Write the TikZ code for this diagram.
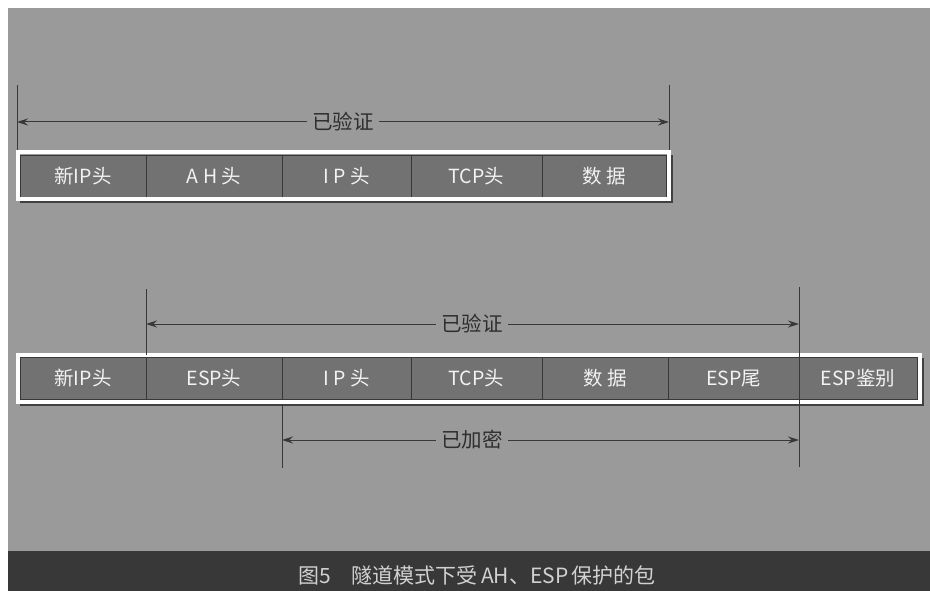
\documentclass[tikz,border=0pt]{standalone}
\usepackage{fontspec}
\usepackage{tikz}
\usetikzlibrary{arrows.meta}
\newfontfamily\cjk{Noto Sans CJK SC}
\definecolor{bggray}{HTML}{9A9A9A}
\definecolor{cellgray}{HTML}{727272}
\definecolor{lineg}{HTML}{383838}
\definecolor{bandgray}{HTML}{383838}

\begin{document}
\begin{tikzpicture}[x = 1pt, y = -1pt, line width = 0.8pt,
  cell/.style = {draw = lineg, fill = cellgray, minimum height = 42, inner sep = 0, outer sep = 0,
    text = white!95!black, font = \cjk\fontsize{19.5}{19.5}\selectfont},
  lbl/.style = {fill = bggray, inner xsep = 5, inner ysep = 1, text = black!82,
    font = \cjk\fontsize{20.5}{20.5}\selectfont},
  arr/.style = {draw = lineg, line width = 1pt, -{Stealth[length = 11pt, width = 7pt]}},
  vline/.style = {draw = lineg, line width = 1pt},
  pktframe/.style = {draw = white, line width = 4pt},
  pktshadow/.style = {draw = black!75, line width = 2pt},
  caption/.style = {text = white!82!black, font = \cjk\fontsize{21}{21}\selectfont}]
\useasboundingbox (0,0) rectangle (930,591);
% background and caption band
\fill[white] (0,0) rectangle (930,591);
\fill[bggray] (8,8) rectangle (930,551);
\fill[bandgray] (8,551) rectangle (930,591);

% AH packet
\draw (83,176) node[cell, minimum width = 126](a1){新IP头}
    (214,176) node[cell, minimum width = 136](a2){A H 头}
    (346.5,176) node[cell, minimum width = 129](a3){I P 头}
    (476.5,176) node[cell, minimum width = 131](a4){TCP头}
    (604,176) node[cell, minimum width = 124](a5){数 据};
\draw[pktframe] ([shift = {(-2.5pt,2.5pt)}]a1.north west) rectangle ([shift = {(2.5pt,-2.5pt)}]a5.south east);
\draw[pktshadow] ([shift = {(0pt,-5.5pt)}]a1.south west) -- ([shift = {(5.5pt,-5.5pt)}]a5.south east)
    -- ([shift = {(5.5pt,0pt)}]a5.north east);

% ESP packet
\draw (83,378.5) node[cell, minimum width = 126](b1){新IP头}
    (214,378.5) node[cell, minimum width = 136](b2){ESP头}
    (346.5,378.5) node[cell, minimum width = 129](b3){I P 头}
    (476.5,378.5) node[cell, minimum width = 131](b4){TCP头}
    (605,378.5) node[cell, minimum width = 126](b5){数 据}
    (733.5,378.5) node[cell, minimum width = 131](b6){ESP尾}
    (858,378.5) node[cell, minimum width = 118](b7){ESP鉴别};
\draw[pktframe] ([shift = {(-2.5pt,2.5pt)}]b1.north west) rectangle ([shift = {(2.5pt,-2.5pt)}]b7.south east);
\draw[pktshadow] ([shift = {(0pt,-5.5pt)}]b1.south west) -- ([shift = {(5.5pt,-5.5pt)}]b7.south east)
    -- ([shift = {(5.5pt,0pt)}]b7.north east);

% range marks
\coordinate (t1) at (17,85);
\coordinate (t2) at (17,150);
\coordinate (t3) at (669,85);
\coordinate (t4) at (669,150);
\coordinate (e1) at (17,122);
\coordinate (e2) at (669,122);
\coordinate (u1) at (146,289);
\coordinate (u2) at (146,355);
\coordinate (u3) at (799,287);
\coordinate (u4) at (799,467);
\coordinate (u5) at (282,404);
\coordinate (u6) at (282,468);
\coordinate (f1) at (146,324);
\coordinate (f2) at (799,324);
\coordinate (g1) at (282,440);
\coordinate (g2) at (799,440);
\draw[vline] (t1) -- (t2);
\draw[vline] (t3) -- (t4);
\draw[vline] (u1) -- (u2);
\draw[vline] (u3) -- (u4);
\draw[vline] (u5) -- (u6);

\node[lbl] (l1) at (343,122) {已验证};
\node[lbl] (l2) at (472,324) {已验证};
\node[lbl] (l3) at (472,440) {已加密};
\draw[arr] (l1) -- (e1);
\draw[arr] (l1) -- (e2);
\draw[arr] (l2) -- (f1);
\draw[arr] (l2) -- (f2);
\draw[arr] (l3) -- (g1);
\draw[arr] (l3) -- (g2);

\node[caption] (cap) at (477,575) {图5\quad 隧道模式下受\,AH、ESP\,保护的包};
\end{tikzpicture}
\end{document}
